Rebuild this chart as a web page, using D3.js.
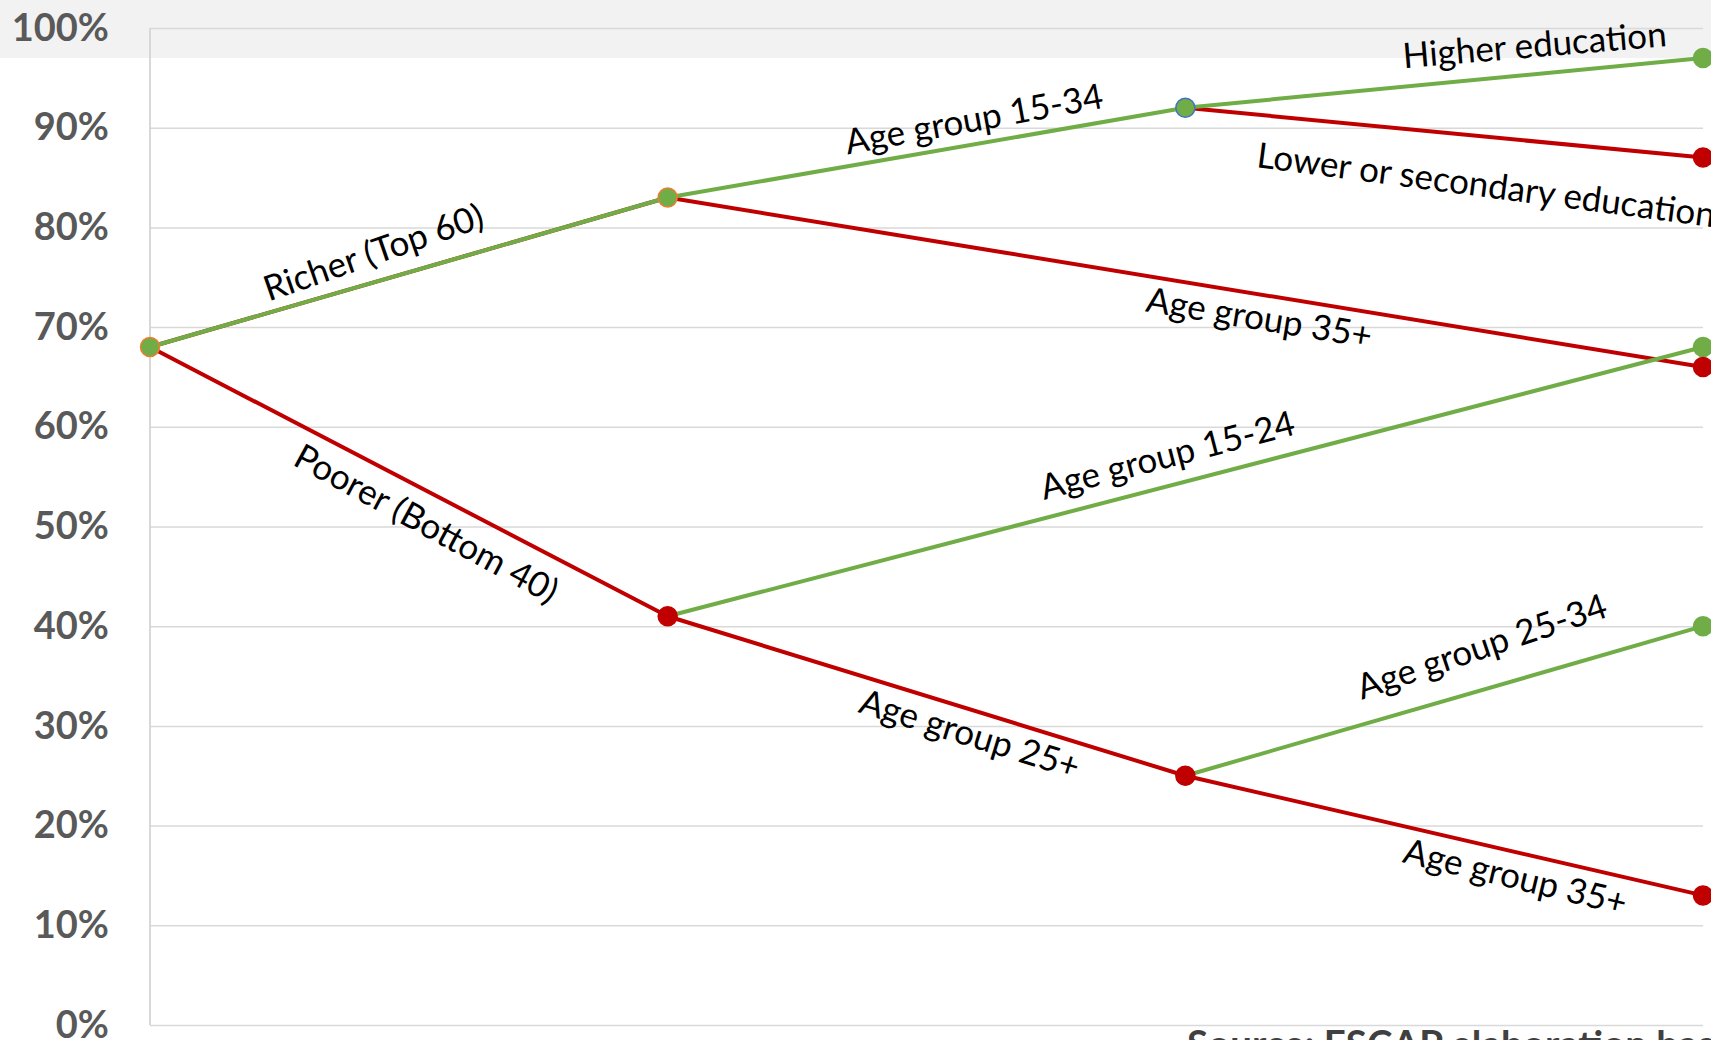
<!DOCTYPE html>
<html>
<head>
<meta charset="utf-8">
<script src="https://cdn.jsdelivr.net/npm/d3@7"></script>
<style>
  html, body { margin: 0; padding: 0; background: #ffffff; overflow: hidden; }
  svg { display: block; }
</style>
</head>
<body>
<svg id="chart" width="1711" height="1040"></svg>
<script>
// Decision-tree stages along the horizontal axis (not labelled)
const stages = [0, 1, 2, 3];

// Y axis ticks (percent)
const yTicks = [0, 10, 20, 30, 40, 50, 60, 70, 80, 90, 100];

// Share (%) at each stage for every branch; null where a branch skips a stage
const richerHigherEdu = [68, 83, 92, 97];
const richerLowerEdu  = [null, null, 92, 87];
const richerOlder     = [68, 83, null, 66];
const poorerYoung     = [null, 41, null, 68];
const poorerOlder     = [68, 41, 25, 13];
const poorerMid       = [null, null, 25, 40];

const GREEN = "#70ad47";
const RED = "#c00000";
const ORANGE = "#ed7d31";
const BLUE = "#4472c4";

// Branch lines, drawn in this order (green over red)
const branches = [
  { values: richerOlder, color: RED },
  { values: richerLowerEdu, color: RED },
  { values: poorerOlder, color: RED },
  { values: richerHigherEdu, color: GREEN },
  { values: poorerYoung, color: GREEN },
  { values: poorerMid, color: GREEN }
];

// Node markers, drawn in this order
const nodes = [
  { values: richerHigherEdu, stage: 0, fill: GREEN, ring: ORANGE },
  { values: richerHigherEdu, stage: 1, fill: GREEN, ring: ORANGE },
  { values: richerHigherEdu, stage: 2, fill: GREEN, ring: BLUE },
  { values: richerHigherEdu, stage: 3, fill: GREEN, ring: GREEN },
  { values: richerLowerEdu, stage: 3, fill: RED, ring: RED },
  { values: poorerYoung, stage: 3, fill: GREEN, ring: GREEN },
  { values: richerOlder, stage: 3, fill: RED, ring: RED },
  { values: poorerOlder, stage: 1, fill: RED, ring: RED },
  { values: poorerOlder, stage: 2, fill: RED, ring: RED },
  { values: poorerMid, stage: 3, fill: GREEN, ring: GREEN },
  { values: poorerOlder, stage: 3, fill: RED, ring: RED }
];

// Branch captions: segment, position along it (t), offset from it and extra tilt
const captions = [
  { text: "Richer (Top 60)", values: richerHigherEdu, from: 0, to: 1, t: 0.447, off: -29, tilt: -3 },
  { text: "Poorer (Bottom 40)", values: poorerOlder, from: 0, to: 1, t: 0.56, off: 29, tilt: 1 },
  { text: "Age group 15-34", values: richerHigherEdu, from: 1, to: 2, t: 0.60, off: -25, tilt: -0.5 },
  { text: "Age group 35+", values: richerOlder, from: 1, to: 3, t: 0.575, off: 23, tilt: 0 },
  { text: "Higher education", values: richerHigherEdu, from: 2, to: 3, t: 0.68, off: -29, tilt: 0.7 },
  { text: "Lower or secondary education", values: richerLowerEdu, from: 2, to: 3, t: 0.59, off: 48, tilt: 2 },
  { text: "Age group 15-24", values: poorerYoung, from: 1, to: 3, t: 0.49, off: -30, tilt: 0 },
  { text: "Age group 25+", values: poorerOlder, from: 1, to: 2, t: 0.597, off: 23.5, tilt: 0 },
  { text: "Age group 25-34", values: poorerMid, from: 2, to: 3, t: 0.595, off: -42, tilt: -2.5 },
  { text: "Age group 35+", values: poorerOlder, from: 2, to: 3, t: 0.648, off: 24, tilt: 0.5 }
];

const sourceNote = "Source: ESCAP elaboration based on survey data";

const W = 1711, H = 1040;
const svg = d3.select("#chart");

const x = d3.scaleLinear().domain([0, 3]).range([150, 1703]);
const y = d3.scaleLinear().domain([0, 100]).range([1025, 28]);

// Light band across the top
svg.append("rect")
  .attr("x", 0).attr("y", 0)
  .attr("width", W).attr("height", 58)
  .attr("fill", "#f2f2f2");

// Horizontal gridlines
const grid = svg.append("g")
  .attr("transform", `translate(${x(0)},0)`)
  .call(d3.axisRight(y).tickValues(yTicks).tickSize(x(3) - x(0)).tickFormat(""));
grid.select(".domain").remove();
grid.selectAll(".tick line").attr("stroke", "#d9d9d9").attr("stroke-width", 1.5);

// Vertical axis line
svg.append("line")
  .attr("x1", x(0)).attr("x2", x(0))
  .attr("y1", y(0)).attr("y2", y(100))
  .attr("stroke", "#d4d4d4").attr("stroke-width", 1.8);

// Percent tick labels
const yAxis = svg.append("g")
  .attr("transform", `translate(${x(0)},0)`)
  .call(d3.axisLeft(y).tickValues(yTicks).tickSize(0).tickPadding(41).tickFormat(d => d + "%"));
yAxis.select(".domain").remove();
yAxis.selectAll("text")
  .attr("fill", "#595959")
  .style("font-family", "Lato, 'Open Sans', sans-serif")
  .style("font-weight", "700")
  .style("font-size", "38px");

// Branch lines
const pointsOf = vals => stages.map((s, i) => [s, vals[i]]).filter(d => d[1] != null);
const lineGen = d3.line().x(d => x(d[0])).y(d => y(d[1]));

svg.append("g").selectAll("path")
  .data(branches)
  .join("path")
  .attr("d", b => lineGen(pointsOf(b.values)))
  .attr("fill", "none")
  .attr("stroke", b => b.color)
  .attr("stroke-width", 4)
  .attr("stroke-linejoin", "round");

// Branch captions
svg.append("g").selectAll("text")
  .data(captions)
  .join("text")
  .attr("transform", c => {
    const x1 = x(c.from), y1 = y(c.values[c.from]);
    const x2 = x(c.to), y2 = y(c.values[c.to]);
    const a = Math.atan2(y2 - y1, x2 - x1);
    const px = x1 + c.t * (x2 - x1), py = y1 + c.t * (y2 - y1);
    const cx = px - Math.sin(a) * c.off, cy = py + Math.cos(a) * c.off;
    return `translate(${cx},${cy}) rotate(${a * 180 / Math.PI + c.tilt})`;
  })
  .attr("text-anchor", "middle")
  .attr("dy", "0.35em")
  .attr("fill", "#000000")
  .style("font-family", "Lato, 'Open Sans', sans-serif")
  .style("font-size", "35px")
  .text(c => c.text);

// Node markers
svg.append("g").selectAll("circle")
  .data(nodes)
  .join("circle")
  .attr("cx", n => x(n.stage))
  .attr("cy", n => y(n.values[n.stage]))
  .attr("r", 9.5)
  .attr("fill", n => n.fill)
  .attr("stroke", n => n.ring)
  .attr("stroke-width", 1.5);

// Source note along the bottom edge
svg.append("text")
  .attr("x", 1187)
  .attr("y", 1058)
  .attr("fill", "#404040")
  .style("font-family", "Lato, 'Open Sans', sans-serif")
  .style("font-weight", "700")
  .style("font-size", "38.5px")
  .text(sourceNote);
</script>
</body>
</html>
